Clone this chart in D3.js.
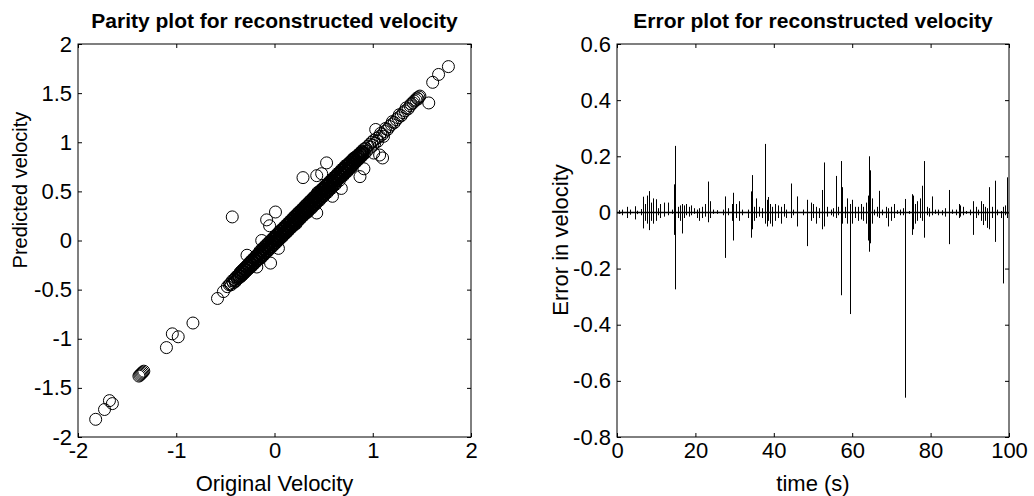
<!DOCTYPE html>
<html>
<head>
<meta charset="utf-8">
<script src="https://cdn.jsdelivr.net/npm/d3@7"></script>
<style>
  body { margin: 0; background: #fff; }
  svg text { font-family: "Liberation Sans", Arial, sans-serif; fill: #000; }
</style>
</head>
<body>
<svg id="chart" width="1034" height="496"></svg>
<script>
// --- Data ---
// parity plot: [original velocity, predicted velocity]
const bandPoints = [
  [-0.45,-0.44],[-0.44,-0.45],[-0.43,-0.41],[-0.42,-0.43],[-0.41,-0.40],[-0.40,-0.42],[-0.39,-0.37],[-0.38,-0.39],
  [-0.37,-0.36],[-0.36,-0.38],[-0.35,-0.33],[-0.34,-0.36],[-0.33,-0.31],[-0.32,-0.34],[-0.31,-0.29],[-0.30,-0.32],
  [-0.29,-0.27],[-0.28,-0.30],[-0.27,-0.25],[-0.26,-0.28],[-0.25,-0.22],[-0.24,-0.27],[-0.23,-0.20],[-0.22,-0.25],
  [-0.21,-0.18],[-0.20,-0.23],[-0.19,-0.16],[-0.18,-0.21],[-0.17,-0.14],[-0.16,-0.19],[-0.15,-0.11],[-0.14,-0.18],
  [-0.13,-0.09],[-0.12,-0.16],[-0.11,-0.07],[-0.10,-0.14],[-0.09,-0.05],[-0.08,-0.12],[-0.07,-0.03],[-0.06,-0.10],
  [-0.05,-0.01],[-0.04,-0.08],[-0.03,0.01],[-0.02,-0.06],[-0.01,0.03],[0.00,-0.04],[0.01,0.05],[0.02,-0.02],
  [0.03,0.07],[0.04,0.00],[0.05,0.09],[0.06,0.02],[0.07,0.11],[0.08,0.04],[0.09,0.13],[0.10,0.06],
  [0.11,0.15],[0.12,0.08],[0.13,0.17],[0.14,0.10],[0.15,0.19],[0.16,0.12],[0.17,0.21],[0.18,0.14],
  [0.19,0.23],[0.20,0.16],[0.21,0.25],[0.22,0.18],[0.23,0.27],[0.24,0.20],[0.25,0.29],[0.26,0.22],
  [0.27,0.31],[0.28,0.24],[0.29,0.33],[0.30,0.26],[0.31,0.35],[0.32,0.28],[0.33,0.37],[0.34,0.30],
  [0.35,0.39],[0.36,0.32],[0.37,0.41],[0.38,0.34],[0.39,0.43],[0.40,0.36],[0.41,0.45],[0.42,0.38],
  [0.43,0.47],[0.44,0.40],[0.45,0.49],[0.46,0.42],[0.47,0.51],[0.48,0.44],[0.49,0.53],[0.50,0.46],
  [0.51,0.55],[0.52,0.48],[0.53,0.56],[0.54,0.50],[0.55,0.58],[0.56,0.52],[0.57,0.60],[0.58,0.54],
  [0.59,0.62],[0.60,0.56],[0.61,0.64],[0.62,0.58],[0.63,0.66],[0.64,0.61],[0.65,0.68],[0.66,0.63],
  [0.67,0.70],[0.68,0.65],[0.69,0.72],[0.70,0.67],[0.71,0.74],[0.72,0.69],[0.73,0.76],[0.74,0.71],
  [0.75,0.78],[0.76,0.73],[0.77,0.80],[0.78,0.75],[0.79,0.82],[0.80,0.77],[0.81,0.84],[0.82,0.79],
  [0.83,0.85],[0.84,0.81],[0.85,0.87],[0.86,0.83],[0.87,0.89],[0.88,0.85],[0.89,0.91],[0.90,0.87],
  [0.91,0.93],[0.92,0.89],[0.93,0.94],[0.94,0.91],[0.95,0.96]
];
const bandCore = [
  [0.00,0.02],[0.02,0.05],[0.04,0.01],[0.06,0.10],[0.08,0.04],[0.10,0.13],[0.12,0.08],[0.14,0.10],
  [0.16,0.19],[0.18,0.14],[0.20,0.24],[0.22,0.17],[0.24,0.28],[0.26,0.22],[0.28,0.31],[0.30,0.26],
  [0.32,0.36],[0.34,0.29],[0.36,0.40],[0.38,0.33],[0.40,0.44],[0.42,0.37],[0.44,0.49],[0.46,0.41],
  [0.48,0.52],[0.50,0.45],[0.52,0.56],[0.54,0.49],[0.56,0.60],[0.58,0.53],[0.60,0.64],[0.62,0.57],
  [0.64,0.68],[0.66,0.61],[0.68,0.72],[0.70,0.66],[0.72,0.76],[0.74,0.70],[0.76,0.79],[0.78,0.74],
  [0.80,0.83]
];
const bandFill = [
  [-0.405,-0.395],[-0.395,-0.41],[-0.385,-0.37],[-0.375,-0.385],[-0.365,-0.35],[-0.355,-0.365],[-0.345,-0.34],[-0.335,-0.345],
  [-0.325,-0.31],[-0.315,-0.325],[-0.305,-0.30],[-0.295,-0.305],[-0.285,-0.27],[-0.275,-0.285],[-0.265,-0.26],[-0.255,-0.265],
  [-0.245,-0.23],[-0.235,-0.25],[-0.225,-0.21],[-0.215,-0.225],[-0.205,-0.19],[-0.195,-0.205],[-0.185,-0.175],[-0.175,-0.19],
  [-0.165,-0.15],[-0.155,-0.165],[-0.145,-0.135],[-0.135,-0.15],[-0.125,-0.11],[-0.115,-0.125],[-0.105,-0.095],[-0.095,-0.11],
  [-0.085,-0.07],[-0.075,-0.085],[-0.065,-0.055],[-0.055,-0.07],[-0.045,-0.03],[-0.035,-0.045],[-0.025,-0.015],[-0.015,-0.03],
  [-0.005,0.01],[0.005,-0.005],[0.015,0.03],[0.025,0.01],[0.035,0.05],[0.045,0.03],[0.055,0.07],[0.065,0.05],
  [0.075,0.09],[0.085,0.07],[0.095,0.11],[0.105,0.09],[0.115,0.13],[0.125,0.11],[0.135,0.15],[0.145,0.13],
  [0.155,0.17],[0.165,0.15],[0.175,0.19],[0.185,0.17],[0.195,0.21],[0.205,0.19],[0.215,0.23],[0.225,0.21],
  [0.235,0.25],[0.245,0.23],[0.255,0.27],[0.265,0.25],[0.275,0.29],[0.285,0.27],[0.295,0.31],[0.305,0.29],
  [0.315,0.33],[0.325,0.31],[0.335,0.35],[0.345,0.33],[0.355,0.37],[0.365,0.35],[0.375,0.39],[0.385,0.37],
  [0.395,0.41],[0.405,0.39],[0.415,0.43],[0.425,0.41],[0.435,0.45],[0.445,0.43],[0.455,0.47],[0.465,0.45],
  [0.475,0.49],[0.485,0.47],[0.495,0.51],[0.505,0.49],[0.515,0.53],[0.525,0.51],[0.535,0.55],[0.545,0.53],
  [0.555,0.57],[0.565,0.55],[0.575,0.59],[0.585,0.57],[0.595,0.61],[0.605,0.59],[0.615,0.63],[0.625,0.61],
  [0.635,0.65],[0.645,0.63],[0.655,0.67],[0.665,0.65],[0.675,0.69],[0.685,0.67],[0.695,0.71],[0.705,0.69],
  [0.715,0.73],[0.725,0.71],[0.735,0.75],[0.745,0.73],[0.755,0.77],[0.765,0.75],[0.775,0.79],[0.785,0.77],
  [0.795,0.81],[0.805,0.79],[0.815,0.83],[0.825,0.81],[0.835,0.84],[0.845,0.83],[0.855,0.86],[0.865,0.85],
  [0.875,0.88],[0.885,0.87],[0.895,0.90],[0.905,0.89]
];
const bandFill2 = [
  [-0.35,-0.325],[-0.34,-0.365],[-0.33,-0.305],[-0.32,-0.345],[-0.31,-0.285],[-0.30,-0.325],[-0.29,-0.265],[-0.28,-0.305],
  [-0.27,-0.245],[-0.26,-0.285],[-0.25,-0.225],[-0.24,-0.265],[-0.23,-0.205],[-0.22,-0.245],[-0.21,-0.185],[-0.20,-0.225],
  [-0.19,-0.165],[-0.18,-0.205],[-0.17,-0.145],[-0.16,-0.185],[-0.15,-0.125],[-0.14,-0.165],[-0.13,-0.105],[-0.12,-0.145],
  [-0.11,-0.085],[-0.10,-0.125],[-0.09,-0.065],[-0.08,-0.105],[-0.07,-0.045],[-0.06,-0.085],[-0.05,-0.025],[-0.04,-0.065],
  [-0.03,-0.005],[-0.02,-0.045],[-0.01,0.015],[0.00,-0.025],[0.01,0.035],[0.02,-0.005],[0.03,0.055],[0.04,0.015],
  [0.05,0.075],[0.06,0.035],[0.07,0.095],[0.08,0.055],[0.09,0.115],[0.10,0.075],[0.11,0.135],[0.12,0.095],
  [0.13,0.155],[0.14,0.115],[0.15,0.175],[0.16,0.135],[0.17,0.195],[0.18,0.155],[0.19,0.215],[0.20,0.175],
  [0.21,0.235],[0.22,0.195],[0.23,0.255],[0.24,0.215],[0.25,0.275],[0.26,0.235],[0.27,0.295],[0.28,0.255],
  [0.29,0.315],[0.30,0.275],[0.31,0.335],[0.32,0.295],[0.33,0.355],[0.34,0.315],[0.35,0.375],[0.36,0.335],
  [0.37,0.395],[0.38,0.355],[0.39,0.415],[0.40,0.375],[0.41,0.435],[0.42,0.395],[0.43,0.455],[0.44,0.415],
  [0.45,0.475],[0.46,0.435],[0.47,0.495],[0.48,0.455],[0.49,0.515],[0.50,0.475],[0.51,0.535],[0.52,0.495],
  [0.53,0.555],[0.54,0.515],[0.55,0.575],[0.56,0.535],[0.57,0.595],[0.58,0.555],[0.59,0.615],[0.60,0.575],
  [0.61,0.635],[0.62,0.595],[0.63,0.655],[0.64,0.615],[0.65,0.675],[0.66,0.635],[0.67,0.695],[0.68,0.655],
  [0.69,0.715],[0.70,0.675],[0.71,0.735],[0.72,0.695],[0.73,0.755],[0.74,0.715],[0.75,0.775],[0.76,0.735],
  [0.77,0.795],[0.78,0.755],[0.79,0.815],[0.80,0.775],[0.81,0.835],[0.82,0.795],[0.83,0.85],[0.84,0.82],
  [0.85,0.87],[0.86,0.84],[0.87,0.885],[0.88,0.86],[0.89,0.90],[0.90,0.88]
];
const upperPoints = [
  [0.97,0.98],[0.98,0.95],[0.99,1.00],[1.00,0.97],[1.01,1.02],[1.02,0.99],[1.04,1.04],[1.05,1.01],
  [1.07,1.06],[1.08,1.09],[1.10,1.08],[1.12,1.11],[1.13,1.14],[1.15,1.13],[1.17,1.16],[1.19,1.18],
  [1.20,1.21],[1.22,1.20],[1.24,1.23],[1.26,1.25],[1.27,1.28],[1.29,1.27],[1.31,1.30],[1.33,1.32],
  [1.34,1.35],[1.36,1.34],[1.38,1.37],[1.39,1.39],[1.41,1.40],[1.42,1.42],[1.44,1.43],[1.45,1.45],
  [1.46,1.44],[1.47,1.46],[1.48,1.47]
];
const outlierPoints = [
  [-1.82,-1.82],[-1.73,-1.72],[-1.68,-1.63],[-1.65,-1.66],
  [-1.38,-1.38],[-1.37,-1.37],[-1.36,-1.36],[-1.35,-1.35],[-1.34,-1.34],[-1.33,-1.33],
  [-1.10,-1.09],[-1.04,-0.95],[-0.98,-0.98],[-0.83,-0.84],
  [-0.58,-0.59],[-0.52,-0.52],[-0.48,-0.47],[-0.46,-0.45],
  [-0.43,0.24],[-0.28,-0.15],[-0.18,-0.27],[-0.04,-0.23],[-0.13,0.00],[-0.08,0.21],
  [0.01,0.29],[-0.05,0.15],[0.04,-0.08],
  [0.29,0.64],[0.43,0.66],[0.48,0.68],[0.53,0.79],[0.43,0.28],[0.59,0.45],[0.68,0.53],
  [0.87,0.65],[0.91,0.73],[1.03,1.13],[1.01,0.89],[1.07,0.87],[1.10,0.84],[1.11,1.06],
  [1.57,1.40],[1.61,1.61],[1.67,1.69],[1.77,1.77]
];
const parityTicks = [-2, -1.5, -1, -0.5, 0, 0.5, 1, 1.5, 2];
const parityXTicks = [-2, -1, 0, 1, 2];

// error plot: [time (s), lowest error, highest error] for each burst
const errSpikes = [
  [0.5,-0.005,0.008],[1.2,-0.01,0.01],[2.5,-0.02,0.02],[3.3,-0.008,0.01],[4.6,-0.025,0.022],
  [5.2,-0.006,0.006],[6.0,-0.01,0.012],[6.7,-0.057,0.056],[7.2,-0.03,0.03],[7.6,-0.04,0.06],
  [8.2,-0.063,0.076],[8.7,-0.03,0.035],[9.1,-0.04,0.05],[9.9,-0.03,0.047],[10.5,-0.01,0.015],
  [11.0,-0.02,0.03],[12.0,-0.015,0.035],[13.1,-0.01,0.035],[14.0,-0.005,0.01],[14.5,-0.08,0.10],
  [14.9,-0.274,0.237],[15.6,-0.02,0.02],[16.0,-0.03,0.025],[16.5,-0.075,0.03],[17.2,-0.02,0.025],
  [17.6,-0.01,0.03],[18.3,-0.015,0.02],[19.0,-0.01,0.025],[19.6,-0.005,0.015],[20.4,-0.02,0.01],
  [21.0,-0.03,0.015],[21.8,-0.02,0.02],[22.5,-0.015,0.03],[23.1,-0.035,0.11],[23.6,-0.02,0.04],
  [24.5,-0.005,0.01],[25.5,-0.005,0.008],[27.0,-0.01,0.01],[27.6,-0.162,0.057],[28.3,-0.01,0.015],
  [29.3,-0.03,0.03],[29.7,-0.10,0.07],[30.3,-0.02,0.03],[31.0,-0.03,0.04],[32.0,-0.01,0.01],
  [33.5,-0.02,0.01],[34.1,-0.09,0.075],[34.5,-0.06,0.133],[35.0,-0.03,0.02],[35.5,-0.02,0.05],
  [36.3,-0.015,0.02],[37.0,-0.02,0.015],[37.8,-0.04,0.244],[38.3,-0.05,0.045],[38.6,-0.03,0.055],
  [39.0,-0.04,0.03],[39.5,-0.05,0.02],[40.2,-0.03,0.03],[41.0,-0.02,0.025],[41.8,-0.04,0.02],
  [42.5,-0.015,0.03],[43.2,-0.02,0.01],[44.3,-0.02,0.103],[45.0,-0.01,0.01],[46.0,-0.05,0.057],
  [47.5,-0.01,0.01],[48.5,-0.12,0.045],[49.4,-0.03,0.035],[50.0,-0.02,0.03],[50.8,-0.04,0.02],
  [51.5,-0.02,0.015],[52.2,-0.06,0.08],[52.9,-0.05,0.178],[53.6,-0.015,0.02],[54.5,-0.01,0.01],
  [55.2,-0.015,0.015],[55.9,-0.02,0.13],[56.4,-0.01,0.02],[57.1,-0.295,0.183],[57.4,-0.04,0.09],
  [58.2,-0.02,0.02],[58.8,-0.04,0.05],[59.4,-0.362,0.03],[60.0,-0.04,0.045],[60.8,-0.02,0.02],
  [61.5,-0.03,0.02],[62.2,-0.025,0.03],[62.8,-0.03,0.02],[63.5,-0.04,0.035],[64.0,-0.10,0.06],
  [64.3,-0.14,0.20],[64.6,-0.11,0.15],[65.0,-0.04,0.05],[65.6,-0.01,0.01],[66.2,-0.015,0.02],
  [66.9,-0.02,0.077],[67.6,-0.01,0.01],[68.5,-0.02,0.02],[69.1,-0.05,0.015],[70.0,-0.03,0.02],
  [70.6,-0.02,0.03],[71.5,-0.005,0.008],[72.2,-0.01,0.01],[73.0,-0.01,0.015],[73.5,-0.66,0.048],
  [74.5,-0.005,0.005],[75.3,-0.08,0.065],[75.6,-0.06,0.06],[76.0,-0.04,0.03],[76.6,-0.03,0.04],
  [77.2,-0.02,0.05],[77.7,-0.03,0.095],[78.4,-0.09,0.183],[79.0,-0.01,0.02],[79.6,-0.015,0.015],
  [80.3,-0.01,0.057],[81.0,-0.005,0.01],[82.0,-0.01,0.01],[83.0,-0.01,0.008],[83.8,-0.015,0.015],
  [84.8,-0.113,0.08],[85.5,-0.005,0.01],[86.5,-0.01,0.01],[87.2,-0.02,0.03],[87.6,-0.015,0.025],
  [88.2,-0.01,0.02],[89.0,-0.005,0.005],[90.0,-0.01,0.01],[90.9,-0.08,0.04],[91.5,-0.02,0.02],
  [92.2,-0.01,0.01],[92.8,-0.03,0.04],[93.3,-0.045,0.03],[93.8,-0.03,0.02],[94.3,-0.055,0.015],
  [95.0,-0.06,0.09],[95.6,-0.02,0.02],[96.4,-0.105,0.113],[97.0,-0.01,0.01],[98.0,-0.02,0.005],
  [98.5,-0.253,0.02],[99.0,-0.01,0.025],[99.6,-0.02,0.125]
];
const errBaseline = [[0, 0], [100, 0]];
const errYTicks = [-0.8, -0.6, -0.4, -0.2, 0, 0.2, 0.4, 0.6];
const timeTicks = [0, 20, 40, 60, 80, 100];

// --- Layout ---
const svg = d3.select("#chart");
const tickFont = 22, labelFont = 22, titleFont = 21;
const leftBox = { x: 78, y: 44, w: 393, h: 393 };
const rightBox = { x: 617, y: 44, w: 392, h: 393 };

function drawAxes(x, y, xTicks, yTicks) {
    const [l, r] = x.range();
    const [b, t] = y.range();
    const fmt = d => String(d);

    const bottom = svg.append("g").attr("transform", `translate(0,${b})`)
        .call(d3.axisBottom(x).tickValues(xTicks).tickSizeInner(-4).tickSizeOuter(0).tickPadding(5).tickFormat(fmt));
    const top = svg.append("g").attr("transform", `translate(0,${t})`)
        .call(d3.axisTop(x).tickValues(xTicks).tickSizeInner(-4).tickSizeOuter(0).tickFormat(""));
    const left = svg.append("g").attr("transform", `translate(${l},0)`)
        .call(d3.axisLeft(y).tickValues(yTicks).tickSizeInner(-4).tickSizeOuter(0).tickPadding(6).tickFormat(fmt));
    const right = svg.append("g").attr("transform", `translate(${r},0)`)
        .call(d3.axisRight(y).tickValues(yTicks).tickSizeInner(-4).tickSizeOuter(0).tickFormat(""));

    [bottom, top, left, right].forEach(a => {
        a.attr("font-size", tickFont).attr("font-family", null);
        a.select(".domain").remove();
        a.selectAll(".tick line").attr("stroke", "#000");
    });

    svg.append("rect")
        .attr("x", l).attr("y", t)
        .attr("width", r - l).attr("height", b - t)
        .attr("fill", "none").attr("stroke", "#000").attr("stroke-width", 1);
}

function addText(str, x, y, size, opts = {}) {
    return svg.append("text")
        .attr("x", x).attr("y", y)
        .attr("text-anchor", "middle")
        .attr("font-size", size)
        .attr("font-weight", opts.bold ? "bold" : null)
        .attr("transform", opts.rotate ? `rotate(-90,${x},${y})` : null)
        .text(str);
}

// --- Parity plot ---
const px = d3.scaleLinear().domain([-2, 2]).range([leftBox.x, leftBox.x + leftBox.w]);
const py = d3.scaleLinear().domain([-2, 2]).range([leftBox.y + leftBox.h, leftBox.y]);

svg.append("g").selectAll("circle")
    .data([...bandPoints, ...bandCore, ...bandFill, ...bandFill2, ...upperPoints, ...outlierPoints])
    .enter().append("circle")
    .attr("cx", d => px(d[0]))
    .attr("cy", d => py(d[1]))
    .attr("r", 6)
    .attr("fill", "none")
    .attr("stroke", "#000")
    .attr("stroke-width", 1);

drawAxes(px, py, parityXTicks, parityTicks);
addText("Parity plot for reconstructed velocity", leftBox.x + leftBox.w / 2, 28, titleFont, { bold: true });
addText("Original Velocity", leftBox.x + leftBox.w / 2, 491, labelFont);
addText("Predicted velocity", 27, 190, 20, { rotate: true });

// --- Error plot ---
const ex = d3.scaleLinear().domain([0, 100]).range([rightBox.x, rightBox.x + rightBox.w]);
const ey = d3.scaleLinear().domain([-0.8, 0.6]).range([rightBox.y + rightBox.h, rightBox.y]);

svg.append("path")
    .datum(errBaseline)
    .attr("d", d3.line().x(d => ex(d[0])).y(d => ey(d[1])))
    .attr("fill", "none")
    .attr("stroke", "#000")
    .attr("stroke-width", 1.6);

svg.append("g").selectAll("line")
    .data(errSpikes)
    .enter().append("line")
    .attr("x1", d => Math.round(ex(d[0])) + 0.5)
    .attr("x2", d => Math.round(ex(d[0])) + 0.5)
    .attr("y1", d => ey(d[1]))
    .attr("y2", d => ey(d[2]))
    .attr("stroke", "#000")
    .attr("stroke-width", 1);

drawAxes(ex, ey, timeTicks, errYTicks);
addText("Error plot for reconstructed velocity", rightBox.x + rightBox.w / 2, 28, titleFont, { bold: true });
addText("time (s)", rightBox.x + rightBox.w / 2, 491, labelFont);
addText("Error in velocity", 568, 240, labelFont, { rotate: true });
</script>
</body>
</html>
